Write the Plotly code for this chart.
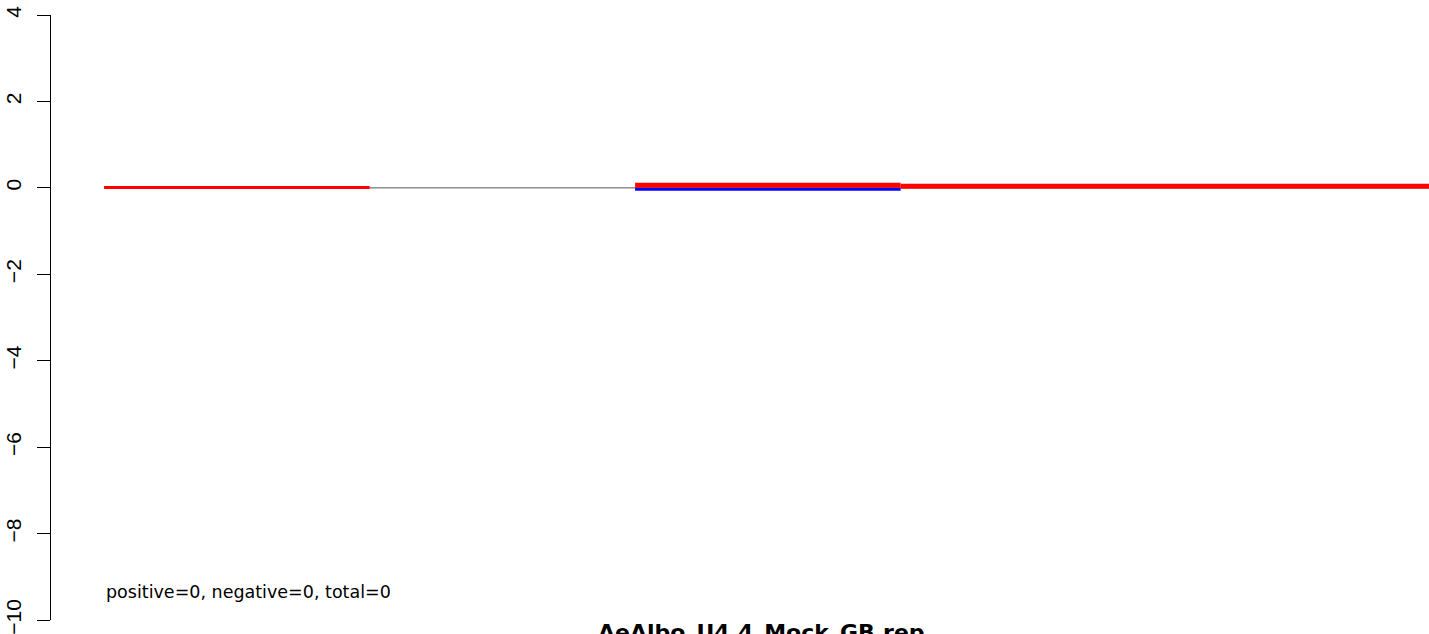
import plotly.graph_objects as go

# Data (bins along the genome)
bin_start = [0, 1, 2, 3]
bin_end = [1, 2, 3, 5]
red_values = [0.01, None, 0.06, 0.035]
blue_values = [None, None, -0.035, None]
baseline_value = 0
y_ticks = [4, 2, 0, -2, -4, -6, -8, -10]
title_text = "AeAlbo_U4.4_Mock_GB.rep"
stats_text = "positive=0, negative=0, total=0"

red_widths = [3, 3, 5, 5]

fig = go.Figure()

# baseline
fig.add_trace(go.Scatter(x=[bin_start[0], bin_end[-1]], y=[baseline_value, baseline_value],
                         mode="lines", line=dict(color="#555555", width=1),
                         hoverinfo="skip", showlegend=False))

for s, e, v in zip(bin_start, bin_end, blue_values):
    if v is None:
        continue
    fig.add_trace(go.Scatter(x=[s, e], y=[v, v], mode="lines",
                             line=dict(color="#0000ff", width=3), showlegend=False))

for s, e, v, w in zip(bin_start, bin_end, red_values, red_widths):
    if v is None:
        continue
    fig.add_trace(go.Scatter(x=[s, e], y=[v, v], mode="lines",
                             line=dict(color="#ff0000", width=w), showlegend=False))

L, T, B = 51, 15, 14
W, H = 1429, 634

fig.update_layout(
    width=W, height=H,
    margin=dict(l=L, r=0, t=T, b=B, autoexpand=False),
    paper_bgcolor="white", plot_bgcolor="white",
    showlegend=False,
    xaxis=dict(range=[-0.2, 4.99], visible=False, showgrid=False, zeroline=False,
               automargin=False),
    yaxis=dict(range=[-10, 4], tickvals=y_ticks,
               ticktext=[str(t).replace("-", "\u2212") for t in y_ticks],
               showline=True, linecolor="black", linewidth=1,
               ticks="outside", ticklen=13, tickcolor="black", tickwidth=1,
               tickangle=-90, ticklabelstandoff=8, automargin=False,
               ticklabeloverflow="allow",
               tickfont=dict(family="Liberation Sans", size=21, color="black"),
               showgrid=False, zeroline=False),
)

plot_w = W - L
plot_h = H - T - B
def px_to_paper_x(px):
    return (px - L) / plot_w
def px_to_paper_y(py):
    return (H - B - py) / plot_h

fig.add_annotation(x=px_to_paper_x(104), y=px_to_paper_y(604), xref="paper", yref="paper",
                   text=stats_text, showarrow=False, xanchor="left", yanchor="bottom",
                   font=dict(family="DejaVu Sans", size=17.5, color="black"))
fig.add_annotation(x=px_to_paper_x(762), y=px_to_paper_y(618), xref="paper", yref="paper",
                   text="<b>" + title_text + "</b>", showarrow=False, xanchor="center", yanchor="top",
                   font=dict(family="DejaVu Sans", size=22, color="black"))

fig.write_html("out.html", config={"displayModeBar": False},
               post_script="document.body.style.margin='0';document.body.style.overflow='hidden';")
